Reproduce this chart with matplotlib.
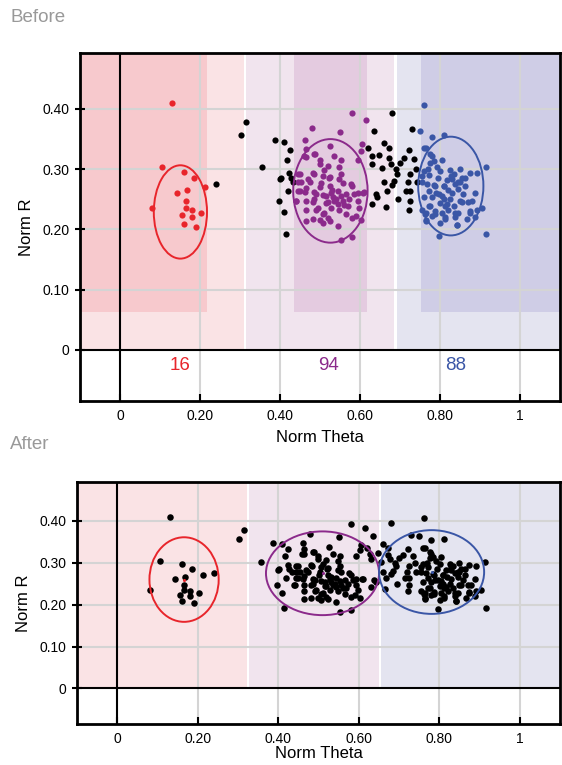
import matplotlib
matplotlib.use('Agg')
import matplotlib.pyplot as plt
from matplotlib.patches import Ellipse, Rectangle

plt.rcParams['font.family'] = ['Liberation Sans', 'DejaVu Sans']

# Puntos por grupo (Norm Theta, Norm R)
red_x = [0.131, 0.106, 0.161, 0.186, 0.212, 0.143, 0.168, 0.165, 0.081, 0.165,
         0.180, 0.203, 0.156, 0.180, 0.161, 0.190]
red_y = [0.410, 0.304, 0.296, 0.285, 0.271, 0.261, 0.265, 0.247, 0.236, 0.236,
         0.232, 0.228, 0.224, 0.220, 0.209, 0.204]

purple_x = [0.580, 0.615, 0.480, 0.551, 0.462, 0.606, 0.526, 0.486, 0.464, 0.602,
            0.536, 0.499, 0.553, 0.594, 0.548, 0.519, 0.482, 0.449, 0.507, 0.522,
            0.470, 0.445, 0.503, 0.557, 0.465, 0.524, 0.581, 0.449, 0.462, 0.486,
            0.544, 0.594, 0.565, 0.610, 0.439, 0.464, 0.507, 0.532, 0.553, 0.573,
            0.482, 0.519, 0.544, 0.569, 0.598, 0.465, 0.491, 0.528, 0.507, 0.565,
            0.590, 0.482, 0.499, 0.524, 0.507, 0.465, 0.553, 0.581, 0.465, 0.460,
            0.488, 0.499, 0.445, 0.485, 0.511, 0.524, 0.453, 0.474, 0.548, 0.445,
            0.491, 0.528, 0.441, 0.486, 0.515, 0.536, 0.495, 0.548, 0.511, 0.519,
            0.544, 0.553, 0.577, 0.608, 0.586, 0.594, 0.557, 0.581, 0.602, 0.540,
            0.530, 0.500, 0.560, 0.515]
purple_y = [0.393, 0.382, 0.369, 0.361, 0.348, 0.342, 0.338, 0.326, 0.321, 0.331,
            0.322, 0.316, 0.316, 0.316, 0.304, 0.306, 0.294, 0.292, 0.289, 0.286,
            0.283, 0.278, 0.277, 0.277, 0.269, 0.272, 0.272, 0.264, 0.262, 0.262,
            0.264, 0.261, 0.258, 0.262, 0.248, 0.248, 0.257, 0.253, 0.256, 0.250,
            0.246, 0.245, 0.242, 0.239, 0.236, 0.233, 0.233, 0.236, 0.225, 0.225,
            0.222, 0.217, 0.215, 0.214, 0.211, 0.214, 0.183, 0.188, 0.333, 0.322,
            0.325, 0.308, 0.292, 0.292, 0.298, 0.287, 0.279, 0.279, 0.283, 0.264,
            0.258, 0.261, 0.248, 0.250, 0.244, 0.247, 0.236, 0.233, 0.228, 0.219,
            0.206, 0.292, 0.275, 0.261, 0.258, 0.247, 0.247, 0.219, 0.215, 0.250,
            0.265, 0.270, 0.240, 0.255]

blue_x = [0.761, 0.749, 0.780, 0.811, 0.759, 0.765, 0.780, 0.776, 0.805, 0.792,
          0.801, 0.759, 0.754, 0.772, 0.826, 0.828, 0.875, 0.892, 0.914, 0.854,
          0.755, 0.768, 0.784, 0.809, 0.817, 0.838, 0.850, 0.863, 0.846, 0.772,
          0.797, 0.805, 0.888, 0.759, 0.780, 0.826, 0.854, 0.871, 0.879, 0.801,
          0.817, 0.834, 0.776, 0.755, 0.788, 0.805, 0.821, 0.846, 0.875, 0.892,
          0.904, 0.762, 0.780, 0.813, 0.838, 0.867, 0.888, 0.765, 0.801, 0.842,
          0.798, 0.916, 0.776, 0.784, 0.788, 0.809, 0.830, 0.846, 0.863, 0.830,
          0.850, 0.772, 0.813, 0.838, 0.788, 0.764, 0.875, 0.813, 0.842, 0.764,
          0.820, 0.795, 0.858, 0.770, 0.835, 0.810, 0.790, 0.850]
blue_y = [0.406, 0.363, 0.354, 0.357, 0.336, 0.336, 0.322, 0.311, 0.315, 0.304,
          0.297, 0.297, 0.289, 0.291, 0.298, 0.289, 0.294, 0.293, 0.303, 0.286,
          0.278, 0.275, 0.274, 0.272, 0.282, 0.276, 0.278, 0.272, 0.267, 0.264,
          0.259, 0.256, 0.261, 0.253, 0.253, 0.250, 0.246, 0.246, 0.247, 0.244,
          0.242, 0.239, 0.239, 0.233, 0.231, 0.228, 0.233, 0.228, 0.231, 0.233,
          0.236, 0.226, 0.222, 0.221, 0.221, 0.217, 0.221, 0.215, 0.211, 0.208,
          0.189, 0.193, 0.325, 0.314, 0.272, 0.272, 0.283, 0.278, 0.286, 0.261,
          0.247, 0.239, 0.239, 0.228, 0.225, 0.228, 0.228, 0.217, 0.208, 0.214,
          0.265, 0.285, 0.258, 0.300, 0.292, 0.250, 0.260, 0.300]

black_x = [0.314, 0.302, 0.240, 0.387, 0.409, 0.424, 0.418, 0.356, 0.423, 0.402,
           0.427, 0.433, 0.420, 0.398, 0.409, 0.414, 0.679, 0.635, 0.621, 0.660,
           0.672, 0.629, 0.648, 0.672, 0.631, 0.656, 0.677, 0.689, 0.701, 0.710,
           0.722, 0.693, 0.685, 0.726, 0.720, 0.660, 0.681, 0.668, 0.726, 0.714,
           0.639, 0.631, 0.664, 0.696, 0.726, 0.722, 0.729, 0.734, 0.739, 0.743,
           0.643, 0.400]
black_y = [0.379, 0.357, 0.275, 0.348, 0.346, 0.332, 0.316, 0.303, 0.294, 0.285,
           0.286, 0.279, 0.263, 0.247, 0.229, 0.193, 0.394, 0.363, 0.336, 0.344,
           0.336, 0.322, 0.324, 0.319, 0.308, 0.302, 0.308, 0.300, 0.311, 0.319,
           0.332, 0.292, 0.281, 0.292, 0.278, 0.278, 0.274, 0.264, 0.264, 0.264,
           0.259, 0.243, 0.237, 0.250, 0.247, 0.233, 0.366, 0.317, 0.300, 0.278,
           0.253, 0.283]

group_counts = ['16', '94', '88']
group_label_x = [0.151, 0.521, 0.838]

# Elipses (centro x, centro y, ancho, alto)
ell_before = [(0.151, 0.229, 0.133, 0.155), (0.526, 0.264, 0.186, 0.172), (0.827, 0.272, 0.163, 0.164)]
ell_after = [(0.166, 0.260, 0.172, 0.202), (0.510, 0.275, 0.281, 0.200), (0.781, 0.278, 0.261, 0.200)]

# Regiones de fondo (x inicio, x fin)
bg_before = [(-0.1, 0.310), (0.316, 0.685), (0.692, 1.1)]
core_before = [(-0.1, 0.218), (0.434, 0.618), (0.752, 1.1)]
bg_after = [(-0.1, 0.322), (0.328, 0.651), (0.656, 1.1)]

colors = ['#E8252B', '#8B2A8B', '#3A56A6']
light = ['#FAE3E5', '#F1E4EE', '#E4E4F0']
dark = ['#F7C9CD', '#E4CBE0', '#CFCDE6']

xlim = (-0.1, 1.1)
ylim = (-0.085, 0.493)

fig = plt.figure(figsize=(5.62, 7.65), dpi=100)
ax1 = fig.add_axes([80/562, 1 - 401/765, 480/562, 348/765])
ax2 = fig.add_axes([77/562, 1 - 724/765, 483/562, 242/765])


def base(ax, regions, xpad):
    ax.set_xlim(*xlim)
    ax.set_ylim(*ylim)
    for (a, b), c in zip(regions, light):
        ax.add_patch(Rectangle((a, 0), b - a, ylim[1], fc=c, ec='none', zorder=0))
    for xv in [0.2, 0.4, 0.6, 0.8, 1.0]:
        ax.axvline(xv, color='#D4D4D4', lw=1.5, zorder=1)
    for yv in [0.1, 0.2, 0.3, 0.4]:
        ax.axhline(yv, color='#D4D4D4', lw=1.5, zorder=1)
    ax.axvline(0, color='black', lw=1.5, zorder=2)
    ax.axhline(0, color='black', lw=1.5, zorder=2)
    ax.set_xticks([0, 0.2, 0.4, 0.6, 0.8, 1.0])
    ax.set_xticklabels(['0', '0.20', '0.40', '0.60', '0.80', '1'])
    ax.set_yticks([0, 0.1, 0.2, 0.3, 0.4])
    ax.set_yticklabels(['0', '0.10', '0.20', '0.30', '0.40'])
    ax.tick_params(axis='x', direction='in', length=5, width=1.5, labelsize=10, pad=6)
    ax.tick_params(axis='y', direction='inout', length=7, width=1.5, labelsize=10, pad=4)
    for s in ax.spines.values():
        s.set_linewidth(2)
    ax.set_xlabel('Norm Theta', fontsize=12, labelpad=xpad)
    ax.set_ylabel('Norm R', fontsize=12, labelpad=6)


# Antes
base(ax1, bg_before, 5)
for (a, b), c in zip(core_before, dark):
    ax1.add_patch(Rectangle((a, 0.063), b - a, ylim[1], fc=c, ec='none', zorder=0.5))
ax1.scatter(black_x, black_y, s=20, color='black', zorder=4, lw=0)
ax1.scatter(red_x, red_y, s=20, color=colors[0], zorder=4, lw=0)
ax1.scatter(purple_x, purple_y, s=20, color=colors[1], zorder=4, lw=0)
ax1.scatter(blue_x, blue_y, s=20, color=colors[2], zorder=4, lw=0)
for (cx, cy, w, h), c in zip(ell_before, colors):
    ax1.add_patch(Ellipse((cx, cy), w, h, fill=False, ec=c, lw=1.4, zorder=5))
for t, xv, c in zip(group_counts, group_label_x, colors):
    ax1.text(xv, -0.026, t, color=c, fontsize=13.5, ha='center', va='center')

# Despues
base(ax2, bg_after, 0)
ax2.scatter(black_x + red_x + purple_x + blue_x, black_y + red_y + purple_y + blue_y,
            s=22, color='black', zorder=4, lw=0)
for (cx, cy, w, h), c in zip(ell_after, colors):
    ax2.add_patch(Ellipse((cx, cy), w, h, fill=False, ec=c, lw=1.4, zorder=5))
    ax2.scatter([cx], [cy], s=5, color=c, zorder=5, lw=0)

fig.text(10/562, 1 - 18/765, 'Before', color='#999999', fontsize=13.5, va='center')
fig.text(10/562, 1 - 444/765, 'After', color='#999999', fontsize=13.5, va='center')

fig.savefig('out.png', dpi=100)
